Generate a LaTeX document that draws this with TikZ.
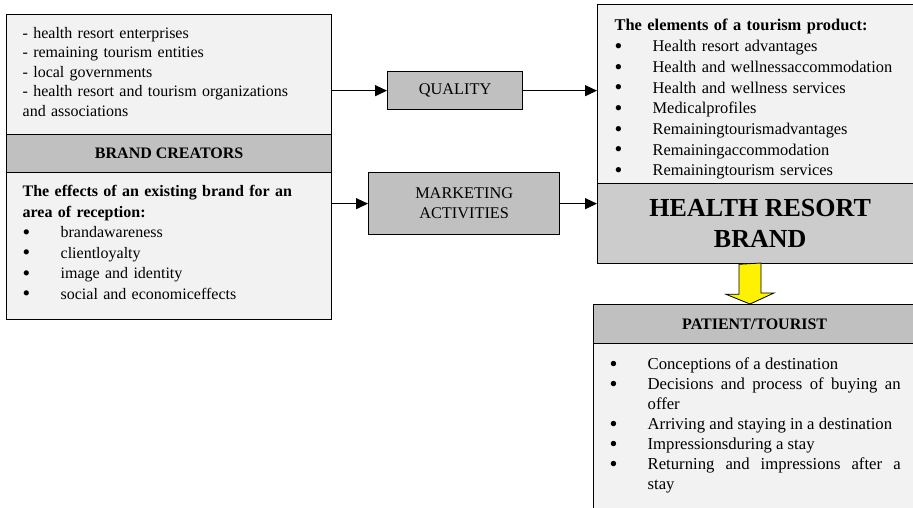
\documentclass[tikz,border=0pt]{standalone}
\usepackage{fontspec}
\setmainfont{Liberation Serif}
\usetikzlibrary{calc,arrows.meta}
\definecolor{PanelGray}{RGB}{242,242,242}
\definecolor{HeadGray}{RGB}{192,192,192}
\definecolor{BrandGray}{RGB}{204,204,204}
\hyphenpenalty=10000
\newcommand\bitem[1]{\par\noindent\hangindent=38pt\hangafter=1\makebox[38pt][l]{\raisebox{-1.8pt}{\scalebox{1.35}{\textbullet}}}#1}
% extra room above the first / below the last line of a panel
\newcommand\padtop[1]{\rule{0pt}{#1}}
\newcommand\padbot[1]{\rule[-#1]{0pt}{0pt}}

\begin{document}
\begin{tikzpicture}[x=1pt,y=-1pt,
  panel/.style={draw,fill=PanelGray,line width=1.3pt,anchor=north west,inner xsep=16pt,inner ysep=0pt,align=left,font=\fontsize{16}{20.5}\selectfont},
  head/.style={draw,fill=HeadGray,line width=1.3pt,anchor=north west,inner sep=0pt,align=center,font=\bfseries\fontsize{16}{20}\selectfont},
  tag/.style={draw,fill=HeadGray,line width=1.3pt,anchor=north west,inner sep=0pt,align=center,font=\fontsize{16.3}{20}\selectfont},
  flow/.style={line width=1.3pt,-{Triangle[length=12pt,width=11pt]}}]
\useasboundingbox (0,0) rectangle (913,507);
\clip (0,0) rectangle (913,507);

% left column
\node[panel,text width=293pt,minimum height=120pt,font=\fontsize{16}{19.4}\selectfont] (makers) at (6,14)
  {- health resort enterprises\\- remaining tourism entities\\- local governments\\- health resort and tourism organizations\\and associations\padbot{6pt}};
\node[head,minimum width=325pt,minimum height=38pt] (creators) at (6,134) {BRAND CREATORS};
\node[panel,text width=293pt,minimum height=147pt] (effects) at (6,172)
  {\textbf{The effects of an existing brand for an area of reception:}
   \bitem{brandawareness}\bitem{clientloyalty}\bitem{image and identity}\bitem{social and economiceffects\padbot{8pt}}\par};

% middle
\node[tag,minimum width=135pt,minimum height=38pt] (quality) at (387,71) {QUALITY};
\node[tag,minimum width=191pt,minimum height=62pt] (marketing) at (368,172) {MARKETING\\ACTIVITIES};

% right column
\node[panel,inner xsep=17pt,text width=292pt,minimum height=179pt,font=\fontsize{16.4}{20.7}\selectfont] (product) at (597,4)
  {\padtop{22pt}\textbf{The elements of a tourism product:}
   \bitem{Health resort advantages}\bitem{Health and wellnessaccommodation}\bitem{Health and wellness services}
   \bitem{Medicalprofiles}\bitem{Remainingtourismadvantages}\bitem{Remainingaccommodation}\bitem{Remainingtourism services}\par};
\node[head,fill=BrandGray,minimum width=325pt,minimum height=80pt,font=\bfseries\fontsize{26}{31}\selectfont] (brand) at (597,183)
  {HEALTH RESORT\\BRAND};

\coordinate (mid) at (750,0);
\draw[fill=yellow,line width=0.8pt] ($(brand.south -| mid)+(-11,0)$) -- ++(0,30) -- ++(-13,0)
  -- (mid |- 0,304) -- ++(24,-11) -- ++(-13,0) -- ++(0,-30) -- cycle;

\node[head,minimum width=322pt,minimum height=39pt] (patient) at (593,304) {PATIENT/TOURIST};
\node[panel,align=justify,text width=291pt,minimum height=170pt,font=\fontsize{16.7}{20}\selectfont] (stages) at (593,343)
  {\bitem{Conceptions of a destination}\bitem{Decisions and process of buying an offer}
   \bitem{Arriving and staying in a destination}\bitem{Impressionsduring a stay}
   \bitem{Returning and impressions after a\linebreak stay\padbot{18pt}}\par};

% connectors
\draw[flow] (quality.west -| makers.east) -- (quality.west);
\draw[flow] (quality.east) -- (quality.east -| product.west);
\draw[flow] (marketing.west -| effects.east) -- (marketing.west);
\draw[flow] (marketing.east) -- (marketing.east -| brand.west);
\end{tikzpicture}
\end{document}
